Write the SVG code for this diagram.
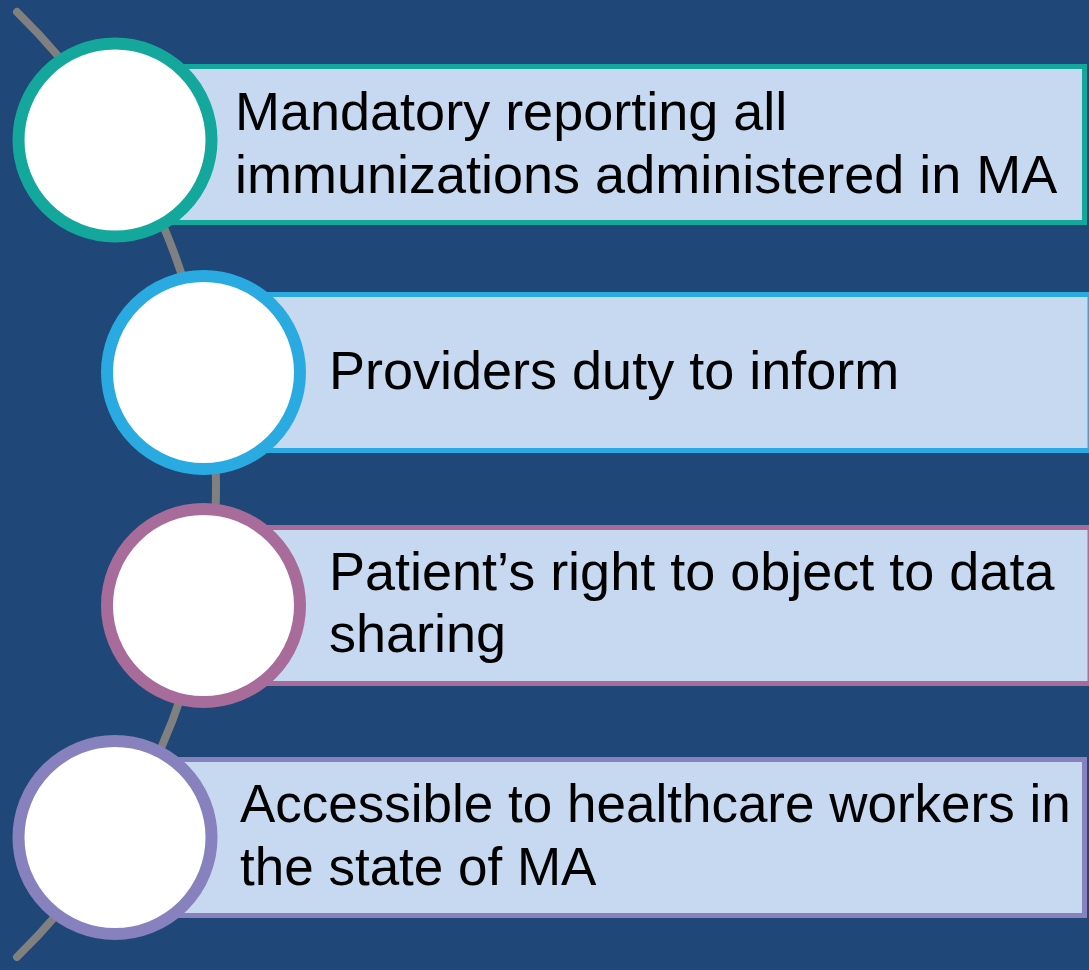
<svg xmlns="http://www.w3.org/2000/svg" width="1089" height="970" viewBox="0 0 1089 970">
  <style>
    .box { fill: #C6D9F0; stroke-width: 5; }
    .ring { fill: #FFFFFF; stroke-width: 12; }
    .label { font-family: "Liberation Sans", Arial, sans-serif; font-size: 54px; fill: #000000; }
    .small { font-size: 53px; }
    .spine { fill: none; stroke: #808080; stroke-width: 8; stroke-linecap: round; }
  </style>
  <rect x="0" y="0" width="1089" height="970" fill="#1F4878"/>
  <g id="connectors">
    <path class="spine" d="M 17 12 A 660.4 660.4 0 0 1 17 957"/>
  </g>
  <g id="node1">
    <rect class="box" x="140" y="66.5" width="944.5" height="156" stroke="#14A89C"/>
    <circle class="ring" cx="115" cy="140" r="96.5" stroke="#14A89C"/>
    <text class="label" x="235" y="130">Mandatory reporting all</text>
    <text class="label" x="235" y="193">immunizations administered in MA</text>
  </g>
  <g id="node2">
    <rect class="box" x="230" y="294.5" width="860" height="156" stroke="#29ABE2"/>
    <circle class="ring" cx="203.5" cy="372.5" r="96.5" stroke="#29ABE2"/>
    <text class="label" x="329" y="389">Providers duty to inform</text>
  </g>
  <g id="node3">
    <rect class="box" x="230" y="527.5" width="860" height="156" stroke="#A86C9B"/>
    <circle class="ring" cx="203.5" cy="605.5" r="96.5" stroke="#A86C9B"/>
    <text class="label" x="329" y="590">Patient’s right to object to data</text>
    <text class="label" x="329" y="652">sharing</text>
  </g>
  <g id="node4">
    <rect class="box" x="140" y="759.5" width="944.5" height="156" stroke="#8781BD"/>
    <circle class="ring" cx="115" cy="837.5" r="96.5" stroke="#8781BD"/>
    <text class="label small" x="240" y="822">Accessible to healthcare workers in</text>
    <text class="label small" x="240" y="885">the state of MA</text>
  </g>
</svg>
